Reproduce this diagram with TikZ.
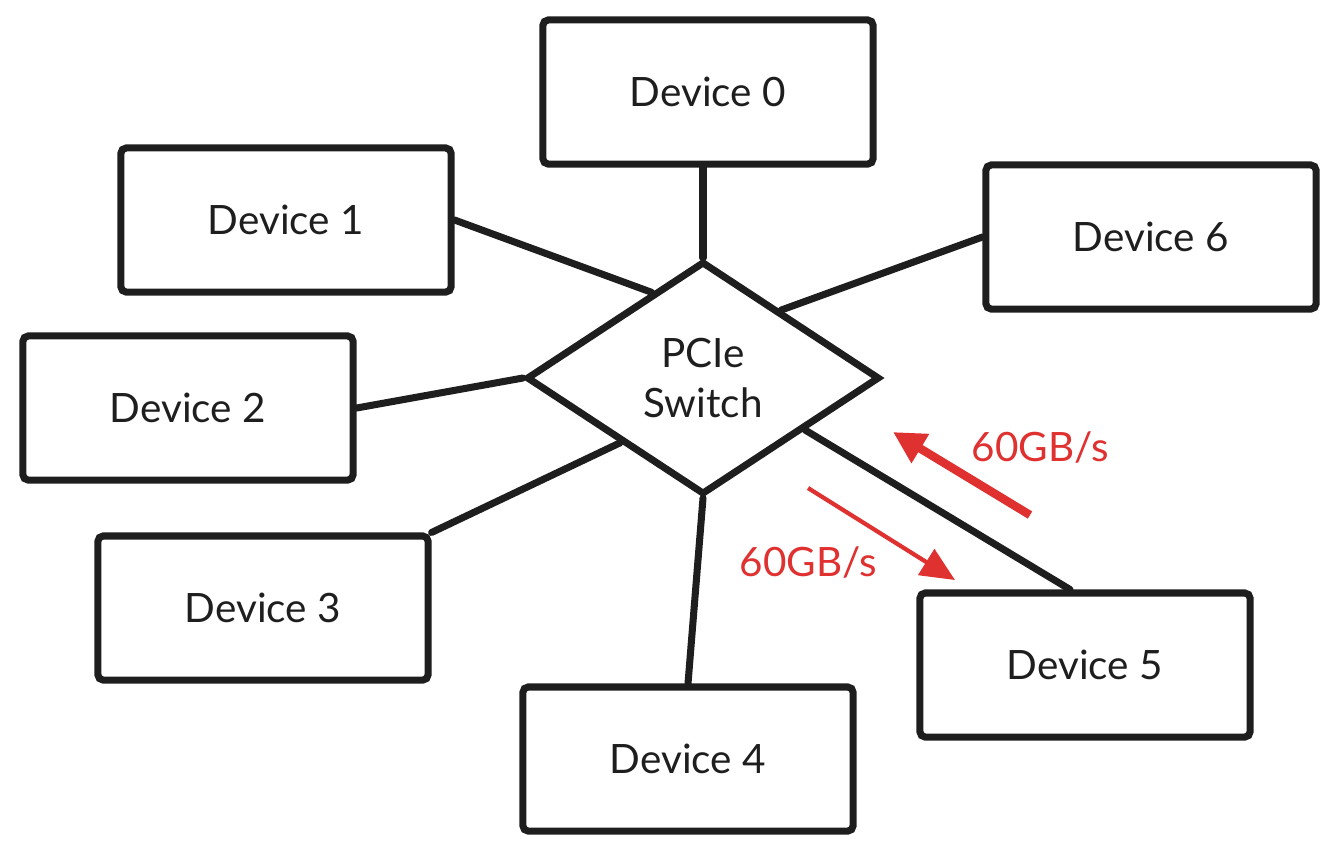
\documentclass[tikz,border=0pt]{standalone}
\usepackage{fontspec}
\setmainfont{Lato}
\usepackage{tikz}
\usetikzlibrary{shapes.geometric,arrows.meta}

\definecolor{linkred}{HTML}{E03131}
\definecolor{ink}{HTML}{1E1E1E}

\tikzset{
  devbox/.style={draw=ink, line width=2pt, rounded corners=1.5pt, minimum width=3.3cm, minimum height=1.44cm, font=\fontsize{11.5}{14}\selectfont, text=ink},
  link/.style={draw=ink, line width=2pt, line cap=round},
  rate/.style={text=linkred, font=\fontsize{11.5}{14}\selectfont}
}

\begin{document}
\begin{tikzpicture}[x=0.01cm, y=-0.01cm]
\useasboundingbox (0,0) rectangle (1337,853);
% switch in the middle
\node[diamond, draw=ink, line width=2pt, minimum width=3.53cm, minimum height=2.33cm, inner sep=0pt, align=center, font=\fontsize{11.5}{14}\selectfont, text=ink] (sw) at (703,378) {PCIe\\Switch};
% devices around it
\node[devbox] (dev0) at (708,92) {Device 0};
\node[devbox] (dev1) at (286,220) {Device 1};
\node[devbox] (dev2) at (188,408) {Device 2};
\node[devbox] (dev3) at (263,608) {Device 3};
\node[devbox] (dev4) at (688,759) {Device 4};
\node[devbox] (dev5) at (1085,665) {Device 5};
\node[devbox] (dev6) at (1151,237) {Device 6};
% links
\draw[link] (sw.north) -- (sw.north |- dev0.south);
\draw[link] (dev1.east) -- (sw.121);
\draw[link] (dev2.east) -- (sw.west);
\draw[link] (dev3.north east) -- (sw.218);
\draw[link] (dev4.north) -- (sw.south);
\draw[link] ([xshift=-0.15cm]dev5.north) -- (sw.333);
\draw[link] (dev6.west) -- (sw.41);
% bandwidth arrows
\coordinate (upA) at (1030,515);
\coordinate (upB) at (893,432);
\coordinate (downA) at (808,488);
\coordinate (downB) at (955,580);
\draw[linkred, line width=2.4pt, -{Triangle[width=0.32cm,length=0.32cm]}] (upA) -- (upB);
\draw[linkred, line width=1.2pt, -{Triangle[width=0.3cm,length=0.34cm]}] (downA) -- (downB);
\node[rate] (rateup) at (1040,447) {60GB/s};
\node[rate] (ratedown) at (808,562) {60GB/s};
\end{tikzpicture}
\end{document}
